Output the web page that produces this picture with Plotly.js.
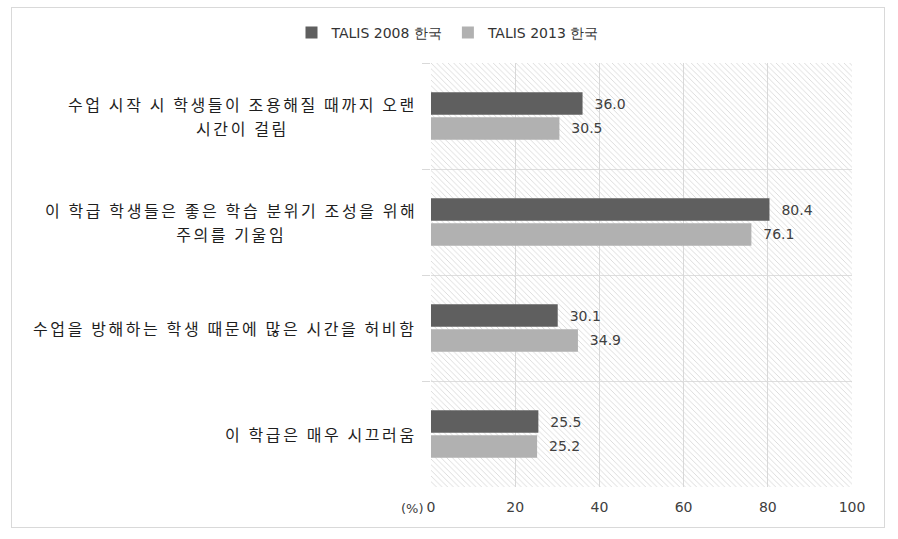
<!DOCTYPE html>
<html>
<head>
<meta charset="utf-8">
<script src="https://cdn.plot.ly/plotly-3.0.1.min.js"></script>
<style>
  body { margin: 0; background: #fff; }
  #frame { position: absolute; left: 11px; top: 7px; width: 872px; height: 519px; border: 1px solid #d9d9d9; }
  text.annotation-text[style*="CJK"] { letter-spacing: 2.6px; }
</style>
</head>
<body>
<div id="frame"><div id="chart"></div></div>
<script>
// categories, top to bottom
var categories = [
  "수업 시작 시 학생들이 조용해질 때까지 오랜<br>시간이 걸림",
  "이 학급 학생들은 좋은 학습 분위기 조성을 위해<br>주의를 기울임",
  "수업을 방해하는 학생 때문에 많은 시간을 허비함",
  "이 학급은 매우 시끄러움"
];
var talis2008 = [36.0, 80.4, 30.1, 25.5];
var talis2013 = [30.5, 76.1, 34.9, 25.2];
var seriesNames = ["TALIS 2008 한국", "TALIS 2013 한국"];
var xTicks = [0, 20, 40, 60, 80, 100];

var numFont = {family: "DejaVu Sans", size: 14, color: "#404040"};
var pad = "\u00a0\u00a0";

// hatched plot background (drawn on hidden base axes)
var bg = {
  x: [0, 1, 1, 0, 0],
  y: [0, 0, 1, 1, 0],
  xaxis: "x", yaxis: "y",
  type: "scatter", mode: "none",
  fill: "toself",
  fillcolor: "rgba(0,0,0,0)",
  fillpattern: {shape: "\\", fgcolor: "#d4d4d4", bgcolor: "rgba(0,0,0,0)", size: 4, solidity: 0.2},
  hoverinfo: "skip", showlegend: false
};

var trace1 = {
  y: categories, x: talis2008,
  name: seriesNames[0], type: "bar", orientation: "h",
  xaxis: "x2", yaxis: "y2",
  marker: {color: "#5f5f5f"},
  text: talis2008.map(v => pad + v.toFixed(1)),
  textposition: "outside", textfont: numFont, cliponaxis: false
};

var trace2 = {
  y: categories, x: talis2013,
  name: seriesNames[1], type: "bar", orientation: "h",
  xaxis: "x2", yaxis: "y2",
  marker: {color: "#b1b1b1"},
  text: talis2013.map(v => pad + v.toFixed(1)),
  textposition: "outside", textfont: numFont, cliponaxis: false
};

var annotations = categories.map(c => ({
  text: c, x: 0, xref: "paper", y: c, yref: "y2",
  xanchor: "right", xshift: -12, align: "center", showarrow: false,
  font: {family: "Noto Sans CJK KR", size: 16, color: "#1e1e1e"}
}));
annotations.push({
  text: "(%)", x: 0, xref: "paper", y: 0, yref: "paper",
  xanchor: "right", yanchor: "middle", xshift: -5, yshift: -21, showarrow: false,
  font: {family: "DejaVu Sans", size: 13, color: "#404040"}
});

var layout = {
  width: 872, height: 519,
  margin: {l: 419, r: 32, t: 55, b: 40},
  paper_bgcolor: "#fff", plot_bgcolor: "#fff",
  barmode: "group", bargap: 0.53, bargroupgap: 0.1,
  showlegend: true,
  legend: {
    orientation: "h", xref: "container", x: 0.5, xanchor: "center",
    yref: "container", y: 0.952, yanchor: "middle",
    font: {family: "DejaVu Sans", size: 14, color: "#333"}, itemwidth: 30
  },
  xaxis: {visible: false, range: [0, 1], fixedrange: true},
  yaxis: {visible: false, range: [0, 1], fixedrange: true},
  xaxis2: {
    overlaying: "x", anchor: "y2", side: "bottom",
    range: [0, 100], tickvals: xTicks, ticks: "",
    showgrid: true, gridcolor: "#d9d9d9", zeroline: false, showline: false,
    tickfont: numFont, ticklabelstandoff: 10
  },
  yaxis2: {
    overlaying: "y", anchor: "x2", side: "left",
    type: "category", autorange: "reversed",
    showticklabels: false, tickson: "boundaries",
    ticks: "outside", ticklen: 8, tickcolor: "#d9d9d9",
    showgrid: true, gridcolor: "#dedede", zeroline: false, showline: false
  },
  annotations: annotations
};

Plotly.newPlot("chart", [bg, trace1, trace2], layout, {displayModeBar: false, staticPlot: true})
  .then(function(gd) {
    // open up the line spacing of the two-line category labels a little
    gd.querySelectorAll("text.annotation-text").forEach(function(t) {
      var lines = t.querySelectorAll("tspan.line");
      var n = lines.length;
      lines.forEach(function(l, i) {
        l.setAttribute("dy", (i * 1.5 - (n - 1) * 0.1) + "em");
      });
    });
  });
</script>
</body>
</html>
